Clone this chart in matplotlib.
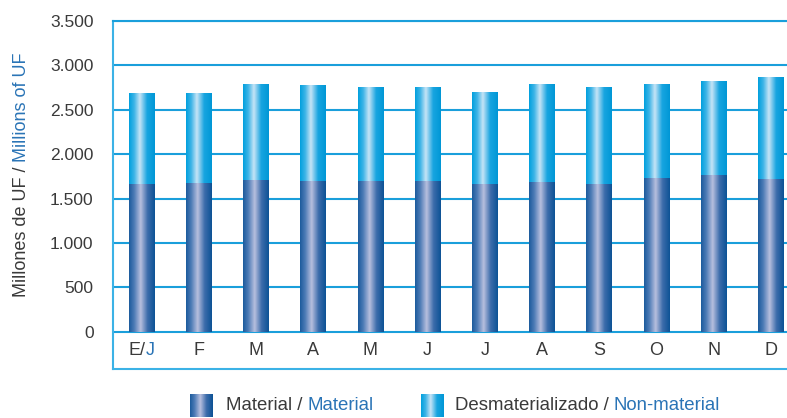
import numpy as np
import matplotlib.pyplot as plt
from matplotlib.colors import LinearSegmentedColormap

plt.rcParams['font.family'] = ['Liberation Sans', 'DejaVu Sans']

# Stock mensual en millones de UF
meses = ["E/J", "F", "M", "A", "M", "J", "J", "A", "S", "O", "N", "D"]
material = [1660, 1671, 1705, 1694, 1694, 1694, 1660, 1682, 1660, 1728, 1761, 1716]
desmaterializado = [1024, 1013, 1080, 1080, 1057, 1057, 1035, 1103, 1091, 1057, 1058, 1148]
y_ticks = [0, 500, 1000, 1500, 2000, 2500, 3000, 3500]

GRIS = '#3a3a3a'
AZUL_TXT = '#2a74b6'
AZUL_LINEA = '#1a9fdb'
AZUL_BORDE = '#3bb2e6'

cmap_mat = LinearSegmentedColormap.from_list(
    'mat', [(0, '#1b5a9c'), (0.2, '#4d7bb6'), (0.45, '#b7bfde'), (0.72, '#3c6cab'), (1, '#0c5295')])
cmap_desm = LinearSegmentedColormap.from_list(
    'desm', [(0, '#00a0de'), (0.2, '#3db4e7'), (0.42, '#c6e4f6'), (0.7, '#18a5e0'), (1, '#0097d6')])
grad = np.linspace(0, 1, 256).reshape(1, -1)


def pintar(ax, barras, cmap):
    # relleno con degradado horizontal recortado a cada barra
    for b in barras:
        x0, y0 = b.get_x(), b.get_y()
        im = ax.imshow(grad, cmap=cmap, aspect='auto', zorder=3,
                       extent=[x0, x0 + b.get_width(), y0, y0 + b.get_height()])
        im.set_clip_path(b)


fig = plt.figure(figsize=(7.87, 4.18), dpi=100)
ax = fig.add_axes([113 / 787, 49.5 / 418, 674 / 787, 347.8 / 418])

x = np.arange(len(meses))
ancho = 0.45
b1 = ax.bar(x, material, ancho, color='none', zorder=3)
b2 = ax.bar(x, desmaterializado, ancho, bottom=material, color='none', zorder=3)
pintar(ax, b1, cmap_mat)
pintar(ax, b2, cmap_desm)

ax.set_xlim(-0.5, 11.283)
ax.set_ylim(-411, 3500)

for v in y_ticks:
    ax.axhline(v, color=AZUL_LINEA, lw=1.5, zorder=1)

ax.set_yticks(y_ticks)
ax.set_yticklabels([f"{v:,}".replace(",", ".") for v in y_ticks], fontsize=12.5, color=GRIS)
ax.set_xticks([])
ax.tick_params(axis='y', length=0, pad=14)

ax.spines['right'].set_visible(False)
for s in ['left', 'bottom', 'top']:
    ax.spines[s].set_color(AZUL_BORDE)
    ax.spines[s].set_linewidth(1.5)
ax.spines['top'].set_color(AZUL_LINEA)

# etiquetas de meses dentro de la franja inferior
y_lab = -208
for i, m in enumerate(meses):
    if m == "E/J":
        t = ax.text(i + 0.07, y_lab, "E/", ha='right', va='center', fontsize=13, color=GRIS)
        ax.annotate("J", xy=(1, 0), xycoords=t, ha='left', va='bottom', fontsize=13, color=AZUL_TXT)
    else:
        ax.text(i, y_lab, m, ha='center', va='center', fontsize=13, color=GRIS)

# título del eje y en dos colores
t = fig.text(22 / 787, (418 - 297) / 418, "Millones de UF / ", rotation=90,
             ha='center', va='bottom', fontsize=13, color=GRIS)
ax.annotate("Millions of UF", xy=(0.5, 1), xycoords=t, rotation=90,
            ha='center', va='bottom', fontsize=13, color=AZUL_TXT, annotation_clip=False)

# leyenda
items = [(190, 226, "Material / ", "Material", cmap_mat),
         (421, 455, "Desmaterializado / ", "Non-material", cmap_desm)]
for xp, xt, es, en, cmap in items:
    cuadro = fig.add_axes([xp / 787, 1 / 418, 23 / 787, 23 / 418])
    cuadro.imshow(grad, cmap=cmap, aspect='auto')
    cuadro.axis('off')
    t = fig.text(xt / 787, (418 - 406) / 418, es, ha='left', va='center', fontsize=13.4, color=GRIS)
    ax.annotate(en, xy=(1, 0), xycoords=t, ha='left', va='bottom', fontsize=13.4, color=AZUL_TXT,
                annotation_clip=False)

fig.savefig('out.png', dpi=100)
